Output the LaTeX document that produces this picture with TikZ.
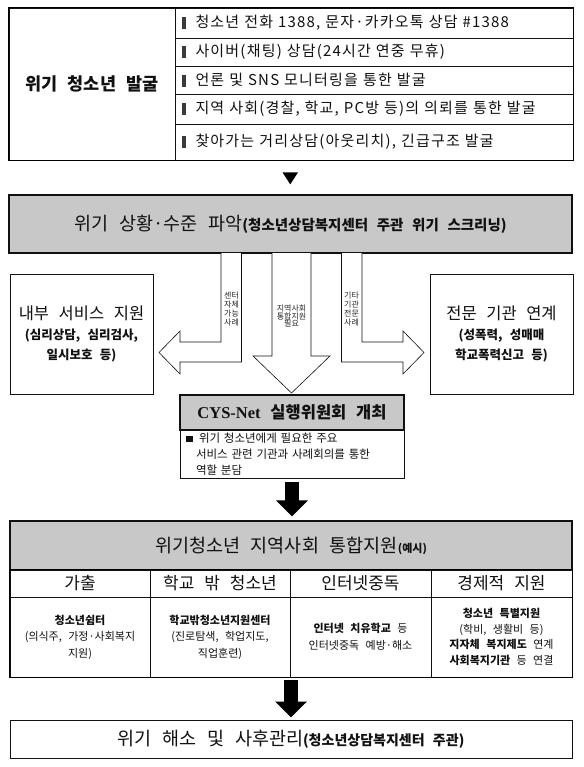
\documentclass[tikz,border=0pt]{standalone}
\usepackage{fontspec}
\setmainfont[WordSpace=2.6]{Noto Sans CJK KR}
\newfontfamily\spaced[WordSpace=4.2,LetterSpace=8]{Noto Sans CJK KR}
\newfontfamily\lserif{Liberation Serif}
\usepackage{xcolor}
\usepackage{tikz}
\usetikzlibrary{arrows.meta,positioning,calc}
\definecolor{cInk}{HTML}{111111}
\definecolor{cFill}{HTML}{C8C8C8}
\definecolor{cBar}{HTML}{3A3A3A}
\definecolor{cNote}{HTML}{262626}
\newcommand{\fs}[2]{\fontsize{#1}{#2}\selectfont}
\newcommand{\bul}{\textcolor{cBar}{\rule[-1pt]{3.5pt}{12pt}}\hspace{10pt}}
\tikzset{
  wbox/.style={draw=cInk,fill=white,line width=0.8pt,align=center,inner sep=0pt,text=cInk},
  gbox/.style={draw=cInk,fill=cFill,line width=1.3pt,align=center,inner sep=0pt,text=cInk},
  item/.style={wbox,line width=0.6pt,minimum width=398pt,text width=384pt,align=left,font=\spaced\fs{15}{16}},
  head/.style={wbox,minimum width=#1,minimum height=27pt,font=\fs{17}{20}},
  cell/.style={wbox,minimum width=#1,minimum height=80pt,font=\fs{11}{16.5}},
  hol/.style={draw=cInk,line width=0.6pt,fill=white,line join=miter},
  blk/.style={line width=14pt,draw=black,-{Triangle[width=31pt,length=16pt]}},
  tag/.style={font=\fs{8}{8.8},text=cNote,align=center,inner sep=0pt},
}
\begin{document}
\begin{tikzpicture}[x=1pt,y=-1pt]
  \useasboundingbox (0,0) rectangle (583,767);
  % discovery
  \node[wbox,minimum width=166pt,minimum height=152pt,font=\fs{17.5}{20}\bfseries] (find) at (92,84) {위기 청소년 발굴};
  \node[item,minimum height=30pt] (f1) at (374,23) {\bul 청소년 전화 1388, 문자·카카오톡 상담 \#1388};
  \node[item,minimum height=28pt] (f2) at (374,52) {\bul 사이버(채팅) 상담(24시간 연중 무휴)};
  \node[item,minimum height=28pt] (f3) at (374,80) {\bul 언론 및 SNS 모니터링을 통한 발굴};
  \node[item,minimum height=30pt] (f4) at (374,109) {\bul 지역 사회(경찰, 학교, PC방 등)의 의뢰를 통한 발굴};
  \node[item,minimum height=36pt] (f5) at (374,142) {\bul 찾아가는 거리상담(아웃리치), 긴급구조 발굴};
  \draw[line width=1pt] (find.north west) rectangle (f5.south east);

  % assessment
  \node[gbox,minimum width=563pt,minimum height=58pt] (assess) at (290.5,224)
    {{\fs{18.5}{20}위기 상황·수준 파악}{\fs{14.5}{16}\bfseries(청소년상담복지센터 주관 위기 스크리닝)}};
  \fill[black] ($(assess.north)+(-8,-22)$) -- ++(15.5,0) -- ++(-7.75,12) -- cycle;

  \node[wbox,minimum width=143pt,minimum height=120pt,font=\fs{12.5}{20}\bfseries] (inner) at (81.5,334)
    {{\fs{16.5}{23}\mdseries 내부 서비스 지원}\\(심리상담, 심리검사,\\일시보호 등)};
  \node[wbox,minimum width=143pt,minimum height=120pt,font=\fs{12.5}{20}\bfseries] (extern) at (501.5,334)
    {{\fs{16.5}{23}\mdseries 전문 기관 연계}\\(성폭력, 성매매\\학교폭력신고 등)};

  % hollow arrows
  \draw[hol] (221,253) -- (221,342) -- (180,342) -- (180,331) -- (159,352.5) -- (180,374) -- (180,362) -- (241.5,362) -- (241.5,253);
  \draw[hol] (272,253) -- (272,356) -- (253,356) -- (291.5,393) -- (330,356) -- (311,356) -- (311,253);
  \draw[hol] (341.5,253) -- (341.5,362) -- (403,362) -- (403,374) -- (424,352.5) -- (403,331) -- (403,342) -- (362,342) -- (362,253);
  \node[tag] (tself) at (231.5,309) {센터\\자체\\가능\\사례};
  \node[tag,font=\fs{8}{7.8}] (tcomm) at (291.5,316) {지역사회\\통합지원\\필요};
  \node[tag] (tspec) at (351.5,309) {기타\\기관\\전문\\사례};

  % CYS-Net
  \node[gbox,minimum width=224pt,minimum height=35pt,font=\fs{16.5}{18}\bfseries] (cys) at (292,412.5)
    {{\lserif CYS-Net} 실행위원회 개최};
  \node[wbox,minimum width=224pt,minimum height=48pt,text width=212pt,align=left,font=\fs{11.5}{16}] (note) at (292,454)
    {\rule{6.5pt}{6.5pt}\hspace{6.5pt}위기 청소년에게 필요한 주요\\\hspace*{10pt}서비스 관련 기관과 사례회의를 통한\\\hspace*{10pt}역할 분담};

  % community support
  \node[gbox,minimum width=562pt,minimum height=49pt] (comm) at (291,545.5)
    {{\fs{18.5}{20}위기청소년 지역사회 통합지원}{\fs{11}{12}\bfseries(예시)}};
  \draw[blk,shorten <=3.5pt,shorten >=4pt] (note.south) -- (note.south |- comm.north);

  \node[head=140pt] (h1) at (80,583.5) {가출};
  \node[head=140pt] (h2) at (220,583.5) {학교 밖 청소년};
  \node[head=141pt] (h3) at (360.5,583.5) {인터넷중독};
  \node[head=141pt] (h4) at (501.5,583.5) {경제적 지원};
  \node[cell=140pt] (c1) at (80,637) {{\bfseries 청소년쉼터}\\(의식주, 가정·사회복지\\지원)};
  \node[cell=140pt] (c2) at (220,637) {{\bfseries 학교밖청소년지원센터}\\(진로탐색, 학업지도,\\직업훈련)};
  \node[cell=141pt] (c3) at (360.5,637) {{\bfseries 인터넷 치유학교} 등\\인터넷중독 예방·해소};
  \node[cell=141pt,font=\fs{11}{15.5}] (c4) at (501.5,637) {{\bfseries 청소년 특별지원}\\(학비, 생활비 등)\\{\bfseries 지자체 복지제도} 연계\\{\bfseries 사회복지기관} 등 연결};
  \draw[line width=1pt] (h1.north west) rectangle (c4.south east);

  % closing
  \node[wbox,line width=1pt,minimum width=562pt,minimum height=38pt] (final) at (291,739)
    {{\fs{18.5}{20}위기 해소 및 사후관리}{\fs{14}{16}\bfseries(청소년상담복지센터 주관)}};
  \draw[blk,shorten <=3pt,shorten >=2pt] (final.north |- c2.south) -- (final.north);
\end{tikzpicture}
\end{document}
